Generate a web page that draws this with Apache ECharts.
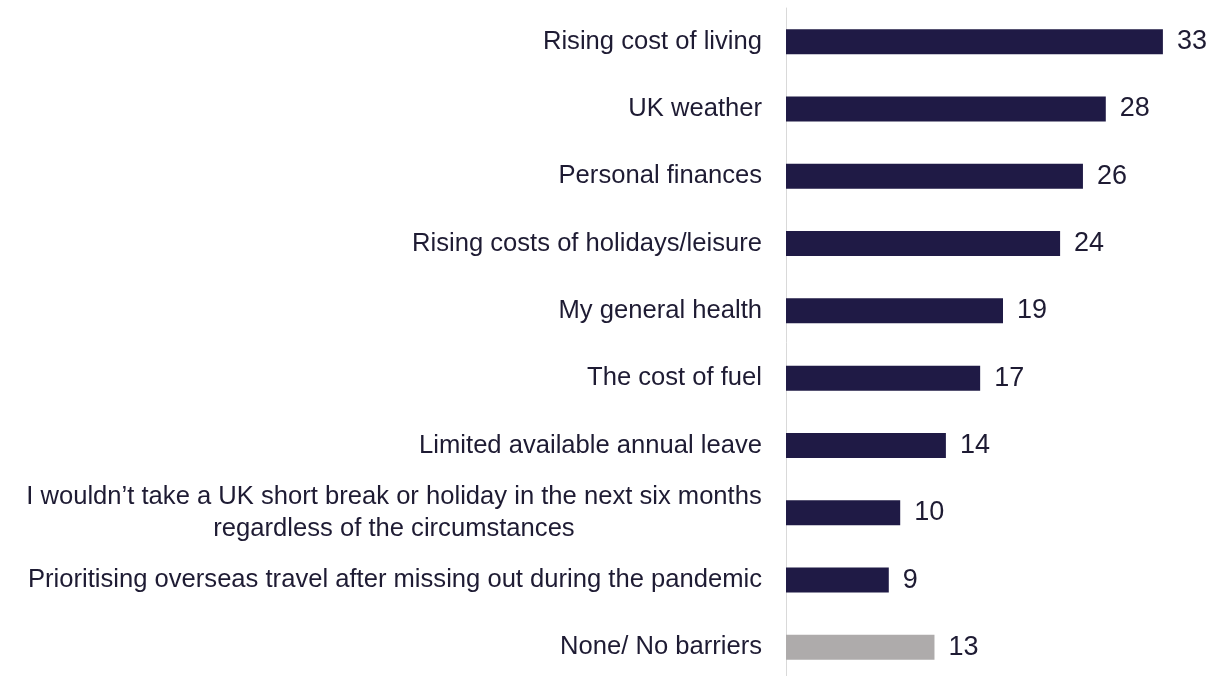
<!DOCTYPE html>
<html>
<head>
<meta charset="utf-8">
<script src="https://cdn.jsdelivr.net/npm/echarts@6/dist/echarts.min.js"></script>
<style>
  html, body { margin: 0; padding: 0; background: #ffffff; }
  #chart { width: 1228px; height: 676px; }
</style>
</head>
<body>
<div id="chart"></div>
<script>
// Barriers to taking a UK short break, % of respondents
const categories = [
  'Rising cost of living',
  'UK weather',
  'Personal finances',
  'Rising costs of holidays/leisure',
  'My general health',
  'The cost of fuel',
  'Limited available annual leave',
  'I wouldn\u2019t take a UK short break or holiday in the next six months\nregardless of the circumstances',
  'Prioritising overseas travel after missing out during the pandemic',
  'None/ No barriers'
];
const values = [33, 28, 26, 24, 19, 17, 14, 10, 9, 13];
const highlightCategory = 'None/ No barriers';

const NAVY = '#1f1a45';
const GREY = '#aeabab';
const TEXT = '#1e1b33';
const FONT = '"Liberation Sans", Arial, Helvetica, sans-serif';
const LABEL_SIZE = 25.6;

// Measure text so wrapped labels can centre their lines under the widest one
const measureCtx = document.createElement('canvas').getContext('2d');
measureCtx.font = LABEL_SIZE + 'px ' + FONT;
function textWidth(s) { return Math.ceil(measureCtx.measureText(s).width); }

const wrappedWidth = Math.max.apply(null,
  categories.filter(c => c.indexOf('\n') >= 0)
    .map(c => Math.max.apply(null, c.split('\n').map(textWidth))));

function formatCategory(name) {
  const lines = name.split('\n');
  if (lines.length === 1) return name;
  return lines.map(l => '{c|' + l + '}').join('\n');
}

const chart = echarts.init(document.getElementById('chart'), null, { renderer: 'canvas' });

chart.setOption({
  animation: false,
  backgroundColor: '#ffffff',
  grid: {
    left: 786, top: 8, width: 434, height: 673,
    containLabel: false,
    outerBoundsMode: 'none'
  },
  xAxis: {
    type: 'value',
    min: 0,
    max: 38,
    show: false
  },
  yAxis: {
    type: 'category',
    data: categories,
    inverse: true,
    axisLine: { show: true, lineStyle: { color: '#d9d9d9', width: 1 } },
    axisTick: { show: false },
    splitLine: { show: false },
    axisLabel: {
      margin: 24,
      color: TEXT,
      fontFamily: FONT,
      fontSize: LABEL_SIZE,
      lineHeight: 32,
      align: 'right',
      formatter: formatCategory,
      rich: {
        c: {
          width: wrappedWidth,
          align: 'center',
          color: TEXT,
          fontFamily: FONT,
          fontSize: LABEL_SIZE,
          lineHeight: 32
        }
      }
    }
  },
  series: [{
    type: 'bar',
    barWidth: 25,
    data: values.map((v, i) => ({
      value: v,
      itemStyle: { color: categories[i] === highlightCategory ? GREY : NAVY }
    })),
    label: {
      show: true,
      position: 'right',
      distance: 14,
      color: TEXT,
      fontFamily: FONT,
      fontSize: 27
    }
  }]
});
</script>
</body>
</html>
